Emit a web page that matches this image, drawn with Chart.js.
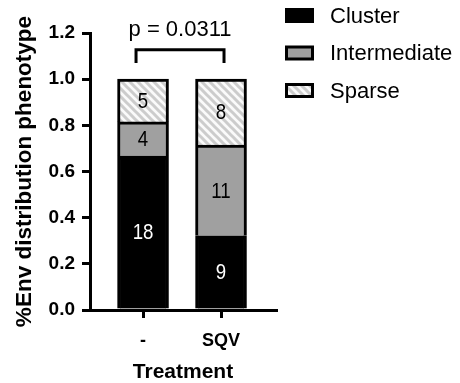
<!DOCTYPE html>
<html>
<head>
<meta charset="utf-8">
<script src="https://cdn.jsdelivr.net/npm/chart.js@4/dist/chart.umd.min.js"></script>
<style>
  html, body { margin: 0; padding: 0; background: #fff; }
</style>
</head>
<body>
<canvas id="chart" width="460" height="383"></canvas>
<script>
const categories = ['-', 'SQV'];
const seriesNames = ['Cluster', 'Intermediate', 'Sparse'];
const clusterCounts = [18, 9];
const intermediateCounts = [4, 11];
const sparseCounts = [5, 8];
const pValueLabel = 'p = 0.0311';

const FONT = "'Liberation Sans', Arial, sans-serif";

// bars show the share of each phenotype, labels show the counts
const totals = categories.map((c, i) => clusterCounts[i] + intermediateCounts[i] + sparseCounts[i]);
const toPoints = counts => counts.map((n, i) => ({ x: i, y: n / totals[i], count: n }));

const makeStripes = () => {
  const c = document.createElement('canvas');
  c.width = 8; c.height = 8;
  const g = c.getContext('2d');
  g.fillStyle = '#fafafa';
  g.fillRect(0, 0, 8, 8);
  g.strokeStyle = '#cccccc';
  g.lineWidth = 3;
  g.beginPath();
  g.moveTo(-2, -2); g.lineTo(10, 10);
  g.moveTo(-2, 6); g.lineTo(2, 10);
  g.moveTo(6, -2); g.lineTo(10, 2);
  g.stroke();
  return g.createPattern(c, 'repeat');
};

const stripes = makeStripes();
const fills = ['#000000', '#a0a0a0', stripes];
const countSets = [clusterCounts, intermediateCounts, sparseCounts];

const decor = {
  id: 'decor',
  afterDatasetsDraw(chart) {
    const ctx = chart.ctx;
    const { x, y } = chart.scales;
    ctx.save();
    // counts inside the segments (slightly narrow glyphs like the original)
    ctx.font = '22px ' + FONT;
    ctx.textAlign = 'center';
    ctx.textBaseline = 'middle';
    chart.data.datasets.forEach((ds, k) => {
      chart.getDatasetMeta(k).data.forEach((bar, i) => {
        ctx.save();
        ctx.translate(bar.x, (bar.y + bar.base) / 2 + 1);
        ctx.scale(0.85, 1);
        ctx.fillStyle = k === 0 ? '#ffffff' : '#000000';
        ctx.fillText(String(ds.data[i].count), 0, 0);
        ctx.restore();
      });
    });

    // significance bracket
    const x0 = x.getPixelForValue(0) - 7;
    const x1 = x.getPixelForValue(1) + 3;
    const yTop = y.getPixelForValue(1.127);
    const yLeg = y.getPixelForValue(1.07);
    ctx.strokeStyle = '#000';
    ctx.lineWidth = 3;
    ctx.lineCap = 'butt';
    ctx.lineJoin = 'miter';
    ctx.beginPath();
    ctx.moveTo(x0, yLeg);
    ctx.lineTo(x0, yTop);
    ctx.lineTo(x1, yTop);
    ctx.lineTo(x1, yLeg);
    ctx.stroke();
    ctx.fillStyle = '#000';
    ctx.font = '22px ' + FONT;
    ctx.textBaseline = 'alphabetic';
    ctx.fillText(pValueLabel, (x0 + x1) / 2, yTop - 14);

    // legend
    ctx.textAlign = 'left';
    ctx.textBaseline = 'middle';
    ctx.font = '22px ' + FONT;
    const rows = [15.5, 53, 90.5];
    chart.data.datasets.forEach((ds, k) => {
      const cy = rows[k];
      ctx.fillStyle = '#000';
      ctx.fillRect(285, cy - 7.5, 29, 15);
      if (k > 0) {
        ctx.fillStyle = ds.backgroundColor;
        ctx.fillRect(288, cy - 4.5, 23, 9);
      }
      ctx.fillStyle = '#000';
      ctx.fillText(ds.label, 330, cy + 1);
    });
    ctx.restore();
  }
};

new Chart(document.getElementById('chart'), {
  type: 'bar',
  data: {
    datasets: seriesNames.map((name, k) => ({
      label: name,
      data: toPoints(countSets[k]),
      backgroundColor: fills[k],
      borderColor: '#000000',
      borderWidth: 3,
      barThickness: 51
    }))
  },
  options: {
    responsive: false,
    animation: false,
    devicePixelRatio: 1,
    layout: { padding: { top: 33, right: 184, bottom: 0, left: 0 } },
    plugins: {
      legend: { display: false },
      tooltip: { enabled: false }
    },
    scales: {
      x: {
        type: 'linear',
        stacked: true,
        offset: false,
        min: -0.68,
        max: 1.705,
        border: { color: '#000', width: 3 },
        grid: { drawOnChartArea: false, offset: false, color: '#000', lineWidth: 3, tickLength: 8 },
        afterBuildTicks: s => { s.ticks = categories.map((c, i) => ({ value: i })); },
        afterFit: s => { s.height = 73; },
        ticks: {
          callback: v => categories[v],
          color: '#000',
          padding: 12,
          maxRotation: 0,
          font: { family: FONT, size: 18, weight: 'bold' }
        },
        title: {
          display: true,
          text: 'Treatment',
          color: '#000',
          padding: { top: 0, bottom: 0 },
          font: { family: FONT, size: 21, weight: 'bold', lineHeight: 1.0 }
        }
      },
      y: {
        stacked: true,
        min: 0,
        max: 1.2,
        border: { color: '#000', width: 3 },
        grid: { drawOnChartArea: false, color: '#000', lineWidth: 3, tickLength: 8 },
        afterFit: s => { s.width = 90; },
        ticks: {
          stepSize: 0.2,
          callback: v => v.toFixed(1),
          color: '#000',
          padding: 7,
          font: { family: FONT, size: 19, weight: 'bold' }
        },
        title: {
          display: true,
          text: '%Env distribution phenotype',
          color: '#000',
          padding: { top: 11, bottom: 0 },
          font: { family: FONT, size: 22.5, weight: 'bold', lineHeight: 1.2 }
        }
      }
    }
  },
  plugins: [decor]
});
</script>
</body>
</html>
